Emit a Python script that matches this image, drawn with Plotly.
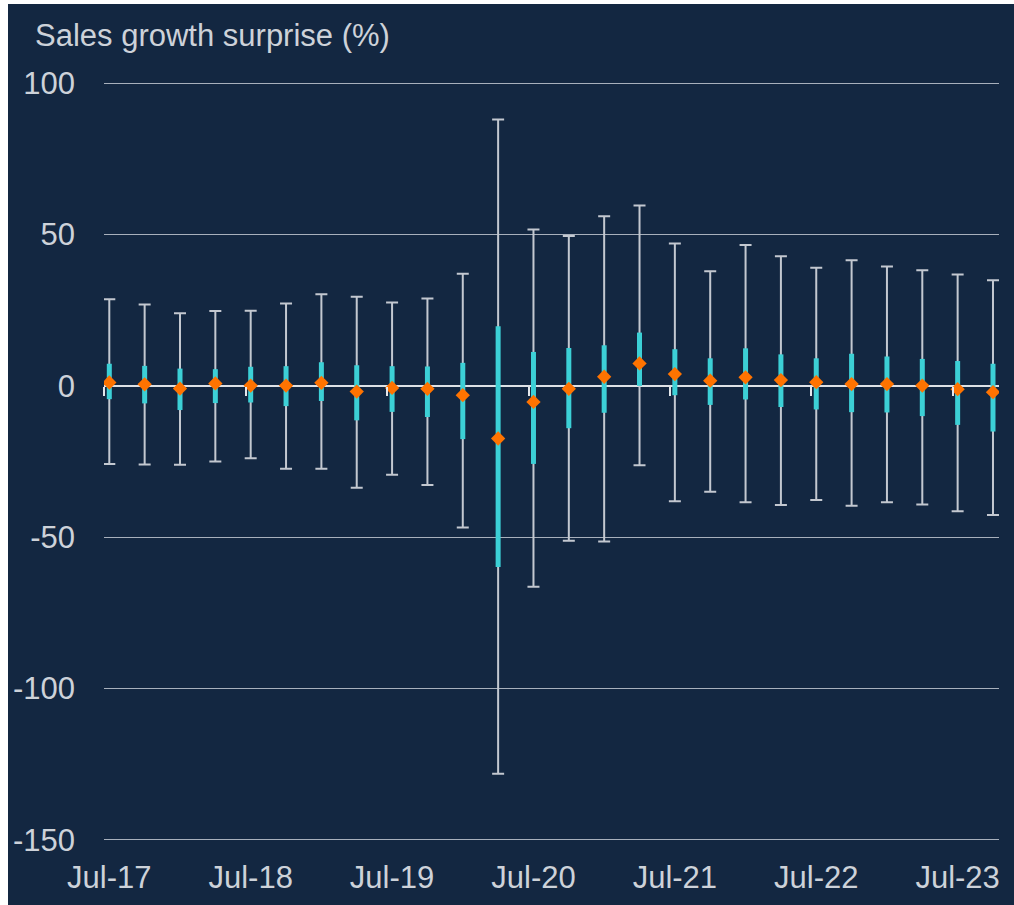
import plotly.graph_objects as go

# ---- data ----
quarters = ["Jul-17", "Oct-17", "Jan-18", "Apr-18", "Jul-18", "Oct-18", "Jan-19", "Apr-19",
            "Jul-19", "Oct-19", "Jan-20", "Apr-20", "Jul-20", "Oct-20", "Jan-21", "Apr-21",
            "Jul-21", "Oct-21", "Jan-22", "Apr-22", "Jul-22", "Oct-22", "Jan-23", "Apr-23",
            "Jul-23", "Oct-23"]
whisker_max = [28.6, 26.9, 24.0, 24.7, 24.8, 27.2, 30.3, 29.4, 27.5, 28.9, 37.0, 88.0, 51.7,
               49.5, 56.0, 59.6, 47.0, 37.9, 46.5, 42.8, 39.0, 41.5, 39.4, 38.2, 36.8, 34.9]
whisker_min = [-25.8, -26.0, -26.1, -25.0, -23.9, -27.4, -27.4, -33.7, -29.4, -32.8, -46.8,
               -128.2, -66.4, -51.2, -51.4, -26.2, -38.1, -35.0, -38.5, -39.4, -37.7, -39.6,
               -38.5, -39.2, -41.4, -42.7]
box_upper = [7.3, 6.6, 5.7, 5.5, 6.3, 6.5, 7.8, 6.8, 6.5, 6.4, 7.6, 19.7, 11.2, 12.5, 13.4,
             17.6, 12.1, 9.1, 12.4, 10.4, 9.1, 10.6, 9.7, 8.9, 8.2, 7.3]
box_lower = [-4.4, -5.8, -8.0, -5.7, -5.5, -6.7, -5.0, -11.4, -8.6, -10.3, -17.6, -59.9,
             -25.8, -14.0, -8.9, 0.0, -3.1, -6.3, -4.5, -7.0, -7.8, -8.7, -8.8, -10.0, -12.9,
             -15.1]
median = [1.1, 0.5, -0.9, 0.8, 0.1, 0.1, 1.0, -1.9, -0.7, -1.0, -3.1, -17.4, -5.3, -1.0,
          3.0, 7.4, 3.9, 1.7, 2.8, 1.9, 1.2, 0.6, 0.6, 0.1, -1.1, -2.1]
y_ticks = [-150, -100, -50, 0, 50, 100]
y_ticktext = ["-150", "-100", "-50", "0", "50", "100"]

x_idx = list(range(len(quarters)))
x_label_pos = x_idx[::4]
x_labels = quarters[::4]

BG = "#132741"
TXT = "#CDD2D9"
FONT = "Arial, Liberation Sans, sans-serif"

fig = go.Figure()

# whiskers (min..max with caps)
fig.add_trace(go.Scatter(
    x=x_idx, y=median, mode="markers", xaxis="x", yaxis="y",
    marker=dict(color="rgba(0,0,0,0)", size=1),
    error_y=dict(type="data", symmetric=False,
                 array=[h - m for h, m in zip(whisker_max, median)],
                 arrayminus=[m - l for m, l in zip(median, whisker_min)],
                 color="#C3C8D0", thickness=2, width=6),
    showlegend=False, hoverinfo="skip"))

# inner range bars
fig.add_trace(go.Scatter(
    x=x_idx, y=box_lower, mode="markers", xaxis="x2", yaxis="y",
    marker=dict(color="rgba(0,0,0,0)", size=1),
    error_y=dict(type="data", symmetric=False,
                 array=[u - l for u, l in zip(box_upper, box_lower)],
                 arrayminus=[0] * len(box_lower),
                 color="#3CD0D6", thickness=5, width=0),
    showlegend=False, hoverinfo="skip"))

# median diamonds
fig.add_trace(go.Scatter(
    x=x_idx, y=median, mode="markers", xaxis="x2", yaxis="y",
    marker=dict(symbol="diamond", size=11, color="#FF7300", line=dict(width=0)),
    showlegend=False))

xr = [-0.15, 25.17]
yr = [-150.4, 100.4]
fig.update_layout(
    width=1006, height=901,
    margin=dict(l=96, r=15, t=78, b=64),
    paper_bgcolor=BG, plot_bgcolor=BG,
    font=dict(family=FONT, size=31, color=TXT),
    xaxis=dict(type="linear", range=xr, tickvals=x_label_pos, ticktext=x_labels,
               showgrid=False, zeroline=False, showline=False, ticks="",
               automargin=False,
               tickfont=dict(size=31, color=TXT), ticklabelstandoff=15),
    xaxis2=dict(overlaying="x", anchor="free", position=(0 - yr[0]) / (yr[1] - yr[0]),
                side="bottom", type="linear", range=xr, automargin=False,
                tickvals=[i - 0.14 for i in x_label_pos],
                ticks="outside", ticklen=9, tickwidth=2, tickcolor="#E4E7EB",
                showticklabels=False, showgrid=False, zeroline=False, showline=False),
    yaxis=dict(range=yr, tickvals=y_ticks, ticktext=y_ticktext,
               showgrid=True, gridcolor="#A8B0BC", gridwidth=1,
               zeroline=True, zerolinecolor="#DDE1E6", zerolinewidth=2,
               showline=False, ticks="", automargin=False,
               tickfont=dict(size=31, color=TXT), ticklabelstandoff=28),
    annotations=[dict(text="Sales growth surprise (%)", xref="paper", yref="paper",
                      x=-0.0793, y=1.0614, xanchor="left", yanchor="middle",
                      showarrow=False, font=dict(size=31, color=TXT))],
)

fig.write_html("out.html",
               post_script="document.body.style.margin='4px 0 0 8px';")
